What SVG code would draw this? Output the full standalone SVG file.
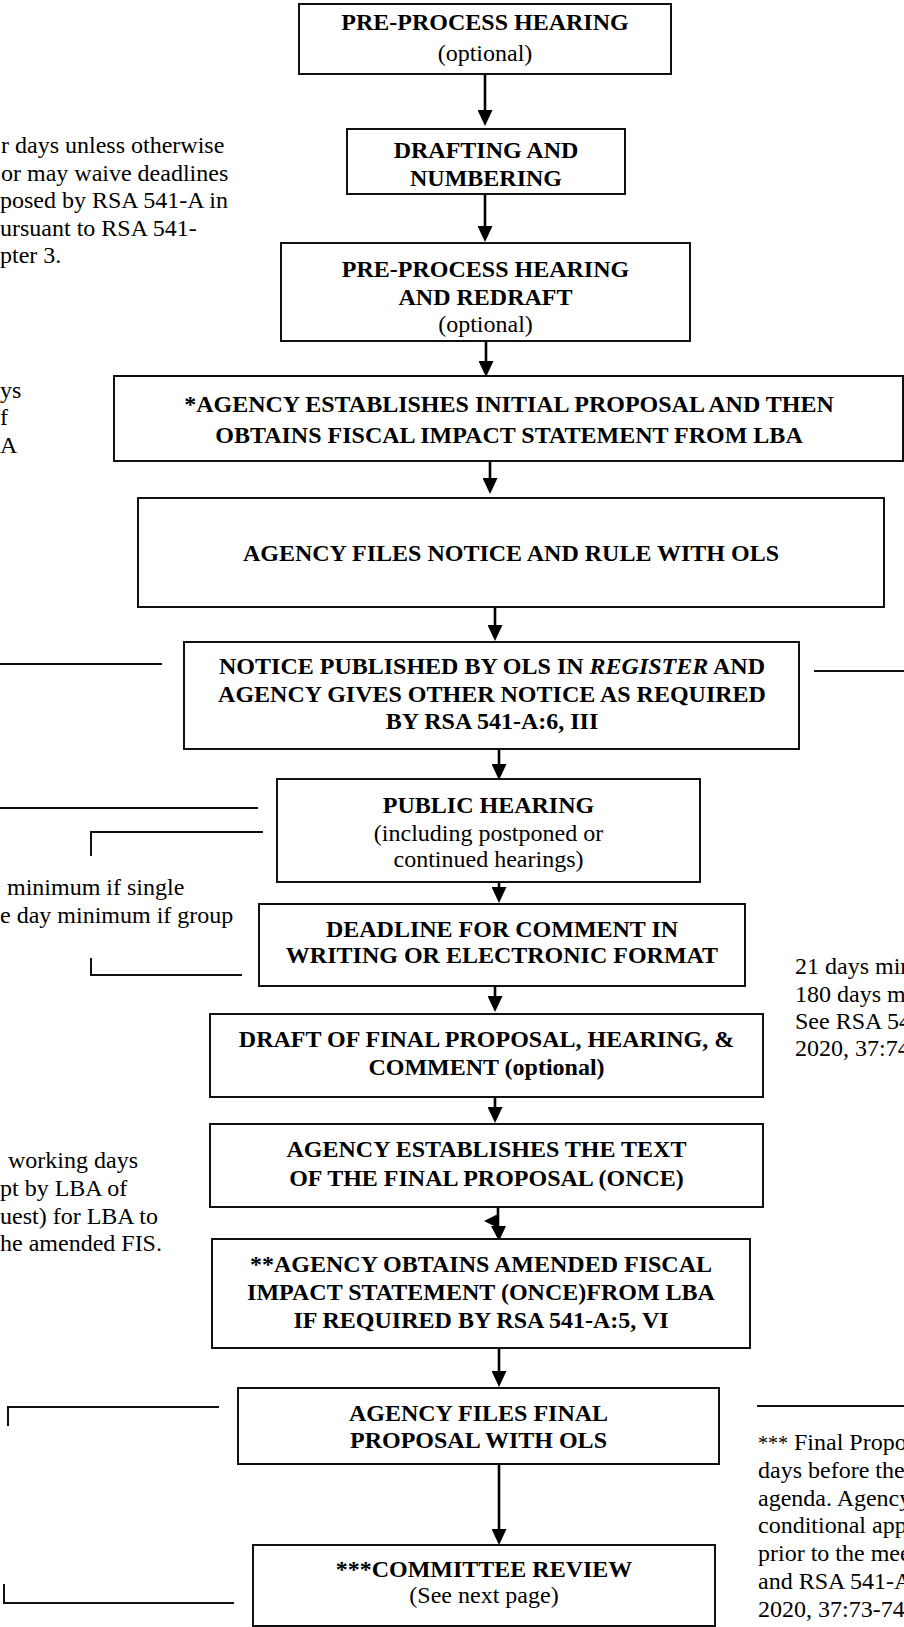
<svg xmlns="http://www.w3.org/2000/svg" width="904" height="1627" viewBox="0 0 904 1627">
<style>
  .box { fill: #ffffff; stroke: #111111; stroke-width: 2; }
  .t { font-family: "Liberation Serif", "Times New Roman", serif; font-size: 24px; fill: #000000; }
  .b { font-weight: bold; }
  .c { text-anchor: middle; }
  .e { text-anchor: end; }
  .con { stroke: #000000; stroke-width: 2.6; fill: none; }
  .side { stroke: #111111; stroke-width: 2; fill: none; }
</style>
<defs>
  <marker id="ah" markerUnits="userSpaceOnUse" markerWidth="16" markerHeight="15" refX="8" refY="7.5" orient="auto">
    <path d="M0,0 L16,7.5 L0,15 Z" fill="#000000"/>
  </marker>
</defs>
<rect width="904" height="1627" fill="#ffffff"/>

<g id="connectors">
  <line class="con" x1="485" y1="74" x2="485" y2="118" marker-end="url(#ah)"/>
  <line class="con" x1="485" y1="194" x2="485" y2="234" marker-end="url(#ah)"/>
  <line class="con" x1="486" y1="341" x2="486" y2="369" marker-end="url(#ah)"/>
  <line class="con" x1="490" y1="461" x2="490" y2="486" marker-end="url(#ah)"/>
  <line class="con" x1="495" y1="607" x2="495" y2="633" marker-end="url(#ah)"/>
  <line class="con" x1="499" y1="749" x2="499" y2="772" marker-end="url(#ah)"/>
  <line class="con" x1="499" y1="882" x2="499" y2="895" marker-end="url(#ah)"/>
  <line class="con" x1="495" y1="986" x2="495" y2="1004" marker-end="url(#ah)"/>
  <line class="con" x1="495" y1="1097" x2="495" y2="1115" marker-end="url(#ah)"/>
  <line class="con" x1="498" y1="1207" x2="498" y2="1228"/>
  <polygon points="498,1214 484,1221 498,1228" fill="#000000"/>
  <polygon points="491,1226 506,1226 499,1241" fill="#000000"/>
  <line class="con" x1="499" y1="1348" x2="499" y2="1379" marker-end="url(#ah)"/>
  <line class="con" x1="499" y1="1464" x2="499" y2="1537" marker-end="url(#ah)"/>

  <line class="side" x1="0" y1="664" x2="162" y2="664"/>
  <line class="side" x1="814" y1="671" x2="904" y2="671"/>
  <line class="side" x1="0" y1="808" x2="258" y2="808"/>
  <polyline class="side" points="263,832 91,832 91,856"/>
  <polyline class="side" points="91,958 91,975 242,975"/>
  <polyline class="side" points="219,1407 8,1407 8,1426"/>
  <polyline class="side" points="4,1584 4,1603 234,1603"/>
  <line class="side" x1="757" y1="1406" x2="904" y2="1406"/>
</g>

<g id="n1">
  <rect class="box" x="299" y="4" width="372" height="70"/>
  <text class="t b c" x="485" y="30">PRE-PROCESS HEARING</text>
  <text class="t c" x="485" y="61">(optional)</text>
</g>
<g id="n2">
  <rect class="box" x="347" y="129" width="278" height="65"/>
  <text class="t b c" x="486" y="158">DRAFTING AND</text>
  <text class="t b c" x="486" y="186">NUMBERING</text>
</g>
<g id="n3">
  <rect class="box" x="281" y="243" width="409" height="98"/>
  <text class="t b c" x="485.5" y="277">PRE-PROCESS HEARING</text>
  <text class="t b c" x="485.5" y="305">AND REDRAFT</text>
  <text class="t c" x="485.5" y="332">(optional)</text>
</g>
<g id="n4">
  <rect class="box" x="114" y="376" width="789" height="85"/>
  <text class="t b c" x="509" y="412">*AGENCY ESTABLISHES INITIAL PROPOSAL AND THEN</text>
  <text class="t b c" x="509" y="443">OBTAINS FISCAL IMPACT STATEMENT FROM LBA</text>
</g>
<g id="n5">
  <rect class="box" x="138" y="498" width="746" height="109"/>
  <text class="t b c" x="511" y="561">AGENCY FILES NOTICE AND RULE WITH OLS</text>
</g>
<g id="n6">
  <rect class="box" x="184" y="642" width="615" height="107"/>
  <text class="t b c" x="492" y="674">NOTICE PUBLISHED BY OLS IN <tspan font-style="italic">REGISTER</tspan> AND</text>
  <text class="t b c" x="492" y="702">AGENCY GIVES OTHER NOTICE AS REQUIRED</text>
  <text class="t b c" x="492" y="729">BY RSA 541-A:6, III</text>
</g>
<g id="n7">
  <rect class="box" x="277" y="779" width="423" height="103"/>
  <text class="t b c" x="488.5" y="813">PUBLIC HEARING</text>
  <text class="t c" x="488.5" y="841">(including postponed or</text>
  <text class="t c" x="488.5" y="867">continued hearings)</text>
</g>
<g id="n8">
  <rect class="box" x="259" y="904" width="486" height="82"/>
  <text class="t b c" x="502" y="937">DEADLINE FOR COMMENT IN</text>
  <text class="t b c" x="502" y="963">WRITING OR ELECTRONIC FORMAT</text>
</g>
<g id="n9">
  <rect class="box" x="210" y="1014" width="553" height="83"/>
  <text class="t b c" x="486.5" y="1047">DRAFT OF FINAL PROPOSAL, HEARING, &amp;</text>
  <text class="t b c" x="486.5" y="1075">COMMENT (optional)</text>
</g>
<g id="n10">
  <rect class="box" x="210" y="1124" width="553" height="83"/>
  <text class="t b c" x="486.5" y="1157">AGENCY ESTABLISHES THE TEXT</text>
  <text class="t b c" x="486.5" y="1186">OF THE FINAL PROPOSAL (ONCE)</text>
</g>
<g id="n11">
  <rect class="box" x="212" y="1239" width="538" height="109"/>
  <text class="t b c" x="481" y="1272">**AGENCY OBTAINS AMENDED FISCAL</text>
  <text class="t b c" x="481" y="1300">IMPACT STATEMENT (ONCE)FROM LBA</text>
  <text class="t b c" x="481" y="1328">IF REQUIRED BY RSA 541-A:5, VI</text>
</g>
<g id="n12">
  <rect class="box" x="238" y="1388" width="481" height="76"/>
  <text class="t b c" x="478.5" y="1421">AGENCY FILES FINAL</text>
  <text class="t b c" x="478.5" y="1448">PROPOSAL WITH OLS</text>
</g>
<g id="n13">
  <rect class="box" x="253" y="1545" width="462" height="81"/>
  <text class="t b c" x="484" y="1577">***COMMITTEE REVIEW</text>
  <text class="t c" x="484" y="1603">(See next page)</text>
</g>

<g id="notes">
  <text class="t" x="1" y="153">r days unless otherwise</text>
  <text class="t" x="1" y="180.5">or may waive deadlines</text>
  <text class="t" x="0" y="208">posed by RSA 541-A in</text>
  <text class="t" x="0" y="235.5">ursuant to RSA 541-</text>
  <text class="t" x="0" y="263">pter 3.</text>

  <text class="t" x="0" y="398">ys</text>
  <text class="t" x="0" y="425">f</text>
  <text class="t" x="0" y="453">A</text>

  <text class="t" x="7" y="895">minimum if single</text>
  <text class="t" x="0" y="923">e day minimum if group</text>

  <text class="t" x="795" y="974">21 days min</text>
  <text class="t" x="795" y="1002">180 days m</text>
  <text class="t" x="795" y="1029">See RSA 54</text>
  <text class="t" x="795" y="1056">2020, 37:74</text>

  <text class="t" x="8" y="1168">working days</text>
  <text class="t" x="0" y="1196">pt by LBA of</text>
  <text class="t" x="0" y="1224">uest) for LBA to</text>
  <text class="t" x="0" y="1251">he amended FIS.</text>

  <text class="t" x="758" y="1450"><tspan font-size="20">***</tspan> Final Propo</text>
  <text class="t" x="758" y="1478">days before the</text>
  <text class="t" x="758" y="1506">agenda. Agency</text>
  <text class="t" x="758" y="1533">conditional app</text>
  <text class="t" x="758" y="1561">prior to the mee</text>
  <text class="t" x="758" y="1589">and RSA 541-A</text>
  <text class="t" x="758" y="1617">2020, 37:73-74</text>
</g>
</svg>
